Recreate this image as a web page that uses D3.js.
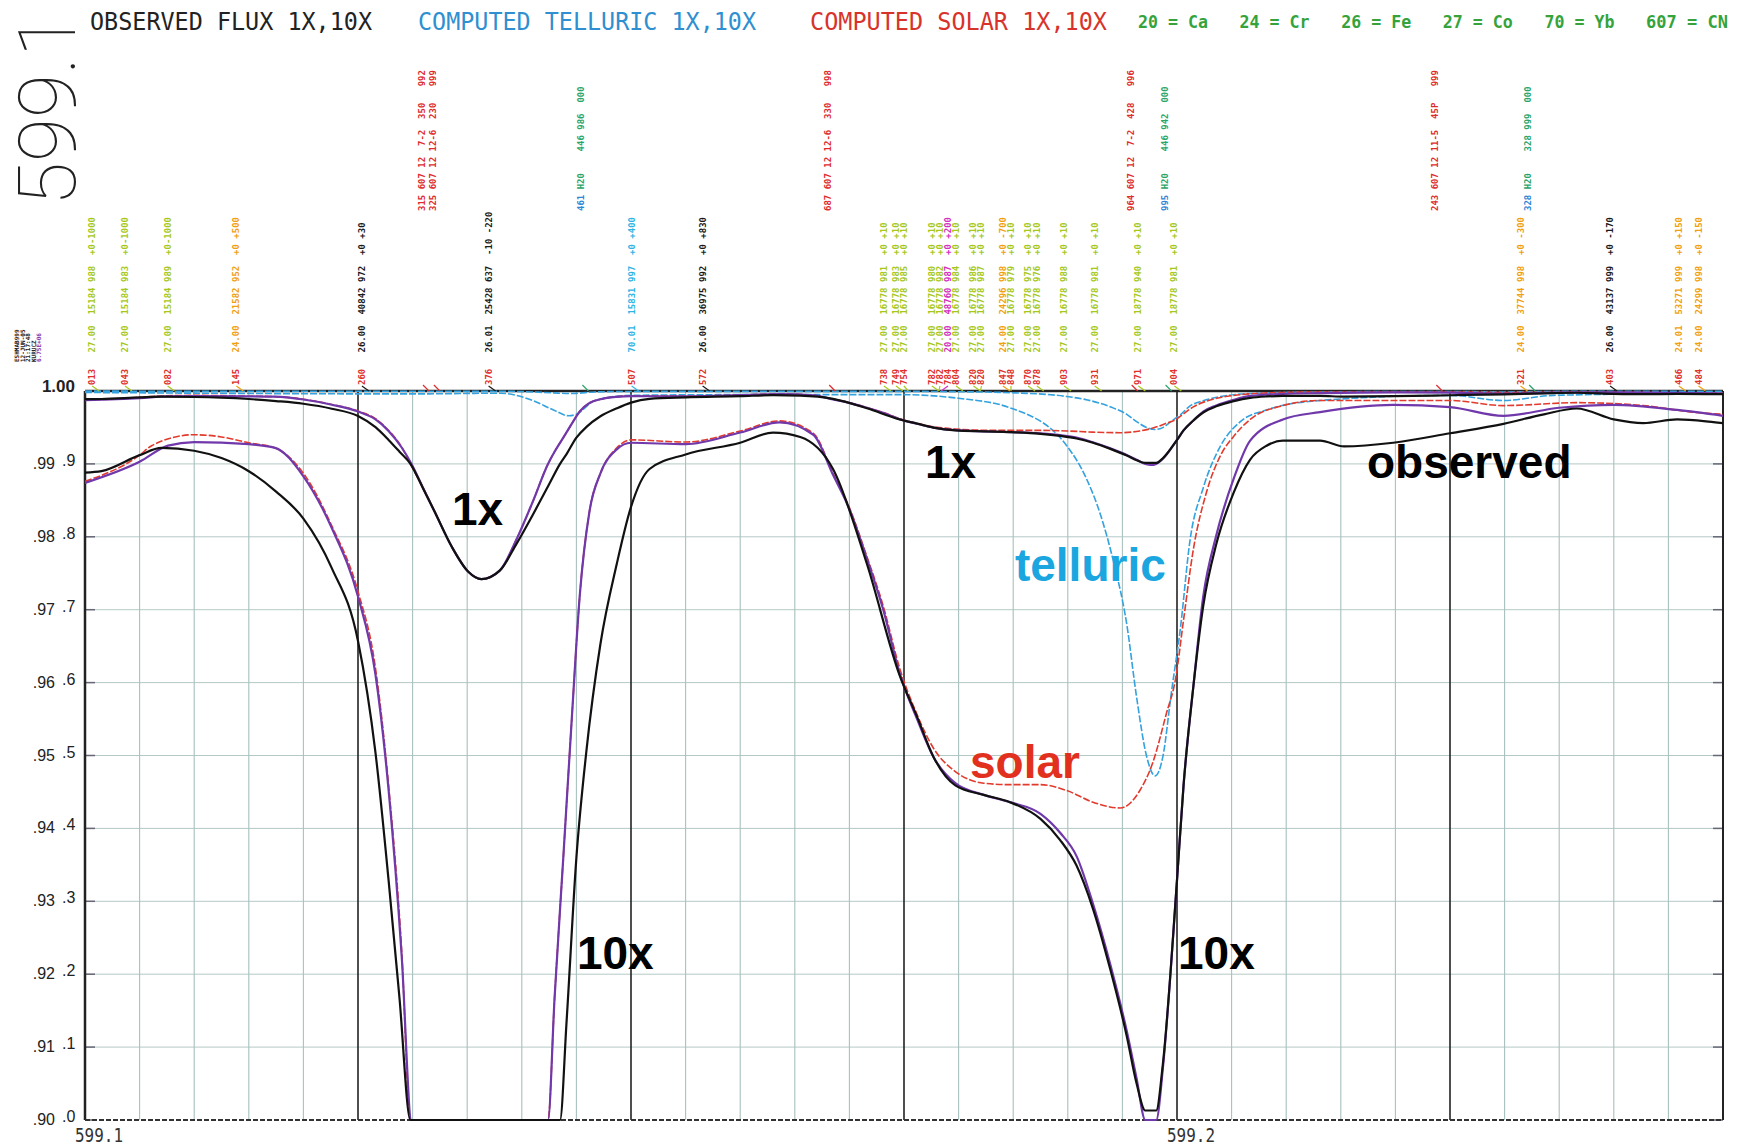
<!DOCTYPE html>
<meta charset="utf-8">
<script src="https://d3js.org/d3.v7.min.js"></script>
<style>
body { margin: 0; background: #fff; }
svg { display: block; }
.mono { font-family: "DejaVu Sans Mono", "Liberation Mono", monospace; }
.big { font-family: "Liberation Sans", Arial, sans-serif; font-weight: bold; }
</style>
<body>
<div id="canvas"></div>
<script>

// observed flux (black), wavelength in nm and normalised flux
var observed = [
  [599.1000,0.9888],[599.1015,0.9890],[599.1050,0.9912],[599.1070,0.9922],[599.1100,0.9918],
  [599.1125,0.9908],[599.1150,0.9890],[599.1175,0.9862],[599.1200,0.9825],[599.1226,0.9757],
  [599.1250,0.9657],[599.1266,0.9504],[599.1278,0.9329],[599.1288,0.9167],[599.1298,0.9000],
  [599.1310,0.8650],[599.1320,0.8350],[599.1336,0.7860],[599.1351,0.7520],[599.1363,0.7420],
  [599.1380,0.7540],[599.1395,0.7900],[599.1410,0.8300],[599.1425,0.8720],[599.1435,0.9000],
  [599.1441,0.9135],[599.1450,0.9360],[599.1459,0.9504],[599.1472,0.9653],[599.1487,0.9763],
  [599.1500,0.9841],[599.1517,0.9893],[599.1550,0.9913],[599.1600,0.9929],[599.1630,0.9943],
  [599.1655,0.9937],[599.1685,0.9893],[599.1716,0.9763],[599.1746,0.9610],[599.1762,0.9553],
  [599.1777,0.9498],[599.1797,0.9459],[599.1823,0.9446],[599.1847,0.9436],[599.1875,0.9413],
  [599.1893,0.9384],[599.1908,0.9349],[599.1923,0.9290],[599.1939,0.9206],[599.1954,0.9115],
  [599.1963,0.9050],[599.1971,0.9013],[599.1981,0.9013],[599.1987,0.9076],[599.2000,0.9329],
  [599.2006,0.9459],[599.2015,0.9595],[599.2024,0.9705],[599.2036,0.9790],[599.2052,0.9861],
  [599.2067,0.9906],[599.2082,0.9925],[599.2097,0.9932],[599.2131,0.9932],[599.2153,0.9924],
  [599.2198,0.9929],[599.2250,0.9942],[599.2299,0.9955],[599.2336,0.9968],[599.2366,0.9976],
  [599.2400,0.9961],[599.2427,0.9956],[599.2458,0.9961],[599.2493,0.9957],[599.2500,0.9956]
];

// computed solar x telluric (purple)
var computed = [
  [599.1000,0.9874],[599.1050,0.9903],[599.1076,0.9925],[599.1100,0.9930],[599.1150,0.9927],
  [599.1174,0.9922],[599.1200,0.9883],[599.1226,0.9812],[599.1250,0.9718],[599.1266,0.9611],
  [599.1278,0.9453],[599.1290,0.9225],[599.1299,0.9000],[599.1310,0.8660],[599.1320,0.8350],
  [599.1336,0.7860],[599.1351,0.7520],[599.1363,0.7420],[599.1380,0.7540],[599.1395,0.7960],
  [599.1410,0.8480],[599.1424,0.9000],[599.1430,0.9167],[599.1438,0.9360],[599.1446,0.9556],
  [599.1453,0.9718],[599.1462,0.9835],[599.1472,0.9887],[599.1487,0.9920],[599.1500,0.9929],
  [599.1550,0.9927],[599.1600,0.9943],[599.1636,0.9957],[599.1667,0.9940],[599.1685,0.9885],
  [599.1700,0.9838],[599.1716,0.9770],[599.1731,0.9700],[599.1746,0.9613],[599.1762,0.9550],
  [599.1777,0.9498],[599.1797,0.9462],[599.1823,0.9446],[599.1847,0.9436],[599.1875,0.9420],
  [599.1893,0.9394],[599.1908,0.9362],[599.1923,0.9297],[599.1939,0.9213],[599.1954,0.9122],
  [599.1963,0.9057],[599.1971,0.9000],[599.1976,0.8985],[599.1981,0.9000],[599.1987,0.9070],
  [599.1994,0.9200],[599.2000,0.9329],[599.2006,0.9459],[599.2015,0.9595],[599.2024,0.9718],
  [599.2036,0.9802],[599.2052,0.9880],[599.2067,0.9932],[599.2097,0.9961],[599.2131,0.9971],
  [599.2198,0.9981],[599.2250,0.9978],[599.2299,0.9966],[599.2350,0.9977],[599.2400,0.9981],
  [599.2458,0.9974],[599.2500,0.9966]
];

// computed solar (red)
var solar = [
  [599.1000,0.9876],[599.1050,0.9912],[599.1061,0.9925],[599.1100,0.9940],[599.1125,0.9937],
  [599.1150,0.9929],[599.1174,0.9922],[599.1200,0.9887],[599.1226,0.9815],[599.1250,0.9725],
  [599.1266,0.9620],[599.1278,0.9459],[599.1290,0.9232],[599.1298,0.9000],[599.1310,0.8660],
  [599.1320,0.8350],[599.1336,0.7860],[599.1351,0.7520],[599.1363,0.7420],[599.1380,0.7540],
  [599.1395,0.7960],[599.1410,0.8480],[599.1424,0.9000],[599.1430,0.9167],[599.1438,0.9360],
  [599.1446,0.9556],[599.1453,0.9718],[599.1462,0.9835],[599.1472,0.9887],[599.1487,0.9922],
  [599.1500,0.9933],[599.1550,0.9930],[599.1600,0.9945],[599.1636,0.9959],[599.1667,0.9942],
  [599.1685,0.9887],[599.1700,0.9840],[599.1716,0.9773],[599.1731,0.9705],[599.1746,0.9620],
  [599.1762,0.9556],[599.1777,0.9510],[599.1797,0.9478],[599.1823,0.9462],[599.1847,0.9460],
  [599.1875,0.9460],[599.1899,0.9452],[599.1923,0.9436],[599.1948,0.9428],[599.1966,0.9452],
  [599.1978,0.9491],[599.1990,0.9556],[599.1999,0.9608],[599.2006,0.9686],[599.2015,0.9783],
  [599.2027,0.9861],[599.2040,0.9912],[599.2052,0.9938],[599.2067,0.9961],[599.2097,0.9980],
  [599.2131,0.9987],[599.2250,0.9987],[599.2299,0.9980],[599.2366,0.9984],[599.2427,0.9980],
  [599.2473,0.9971],[599.2500,0.9968]
];

// computed telluric (blue)
var telluric = [
  [599.1000,0.9998],[599.1300,0.9996],[599.1380,0.9997],[599.1410,0.9987],[599.1429,0.9974],
  [599.1443,0.9966],[599.1450,0.9968],[599.1467,0.9987],[599.1500,0.9994],[599.1600,0.9995],
  [599.1746,0.9995],[599.1800,0.9990],[599.1847,0.9977],[599.1899,0.9925],[599.1917,0.9880],
  [599.1930,0.9830],[599.1942,0.9765],[599.1954,0.9680],[599.1963,0.9580],[599.1972,0.9500],
  [599.1980,0.9472],[599.1987,0.9498],[599.1995,0.9588],[599.2003,0.9673],[599.2012,0.9796],
  [599.2024,0.9867],[599.2040,0.9925],[599.2058,0.9958],[599.2082,0.9974],[599.2131,0.9987],
  [599.2250,0.9994],[599.2299,0.9987],[599.2345,0.9994],[599.2500,0.9997]
];

// axis labels
var xTickLabels = [[599.1, "599.1"], [599.2, "599.2"]];
var yOuterLabels = [".90", ".91", ".92", ".93", ".94", ".95", ".96", ".97", ".98", ".99"];
var yInnerLabels = [".0", ".1", ".2", ".3", ".4", ".5", ".6", ".7", ".8", ".9"];

// header
var header = [
  ["OBSERVED FLUX 1X,10X", "#222"],
  ["COMPUTED TELLURIC 1X,10X", "#2f8fd0"],
  ["COMPUTED SOLAR 1X,10X", "#d8332b"]
];
var elements = [["20", "Ca"], ["24", "Cr"], ["26", "Fe"], ["27", "Co"], ["70", "Yb"], ["607", "CN"]];

// atomic line identifications: wavelength, element, level + gf, shifts
var atomLines = [
  [599.1013, "27.00", "15184 988", "+0-1000"],
  [599.1043, "27.00", "15184 983", "+0-1000"],
  [599.1082, "27.00", "15184 989", "+0-1000"],
  [599.1145, "24.00", "21582 952", "+0 +500"],
  [599.1260, "26.00", "40842 972", "+0 +30"],
  [599.1376, "26.01", "25428 637", "-10 -220"],
  [599.1507, "70.01", "15831 997", "+0 +400"],
  [599.1572, "26.00", "36975 992", "+0 +830"],
  [599.1738, "27.00", "16778 981", "+0 +10"],
  [599.1749, "27.00", "16778 983", "+0 +10"],
  [599.1754, "27.00", "16778 985", "+0 +10"],
  [599.1782, "27.00", "16778 980", "+0 +10"],
  [599.1782, "27.00", "16778 982", "+0 +10"],
  [599.1784, "20.00", "48760 987", "+0 +200"],
  [599.1804, "27.00", "16778 984", "+0 +10"],
  [599.1820, "27.00", "16778 986", "+0 +10"],
  [599.1820, "27.00", "16778 987", "+0 +10"],
  [599.1847, "24.00", "24296 998", "+0 -700"],
  [599.1848, "27.00", "16778 979", "+0 +10"],
  [599.1870, "27.00", "16778 975", "+0 +10"],
  [599.1878, "27.00", "16778 976", "+0 +10"],
  [599.1903, "27.00", "16778 988", "+0 +10"],
  [599.1931, "27.00", "16778 981", "+0 +10"],
  [599.1971, "27.00", "18778 940", "+0 +10"],
  [599.2004, "27.00", "18778 981", "+0 +10"],
  [599.2321, "24.00", "37744 998", "+0 -300"],
  [599.2403, "26.00", "43137 999", "+0 -170"],
  [599.2466, "24.01", "53271 999", "+0 +150"],
  [599.2484, "24.00", "24299 998", "+0 -150"]
];

// molecular / telluric identifications
var molLines = [
  [599.1315, "607", "607 12  7-2  350   992"],
  [599.1325, "607", "607 12 12-6  230   999"],
  [599.1461, "H2O", "H20    446 986  000"],
  [599.1687, "607", "607 12 12-6  330   998"],
  [599.1964, "607", "607 12  7-2  428   996"],
  [599.1995, "H2O", "H20    446 942  000"],
  [599.2243, "607", "607 12 11-5  45P   999"],
  [599.2328, "H2O", "H20    328 999  000"]
];

// big labels: text, wavelength, flux on the 10x scale, colour
var bigLabels = [
  ["1x", 599.13361, 0.98162, "#000"],
  ["10x", 599.14505, 0.92071, "#000"],
  ["1x", 599.17692, 0.98807, "#000"],
  ["telluric", 599.18516, 0.97394, "#1ba6e0"],
  ["solar", 599.18104, 0.94691, "#e2301e"],
  ["10x", 599.20009, 0.92071, "#000"],
  ["observed", 599.21740, 0.98807, "#000"]
];

var elemColor = {"20": "#d42fc0", "24": "#f0a010", "26": "#1a1a1a", "27": "#a6c81c", "70": "#2fb4e4"};

var width = 1743, height = 1148;
var margin = {top: 391, right: 20, bottom: 28, left: 85};
var w = width - margin.left - margin.right;
var h = height - margin.top - margin.bottom;

var svg = d3.select('#canvas').append('svg')
  .attr('width', width).attr('height', height)
  .style('background', '#fff');

var x = d3.scaleLinear().domain([599.1, 599.25]).range([0, w]);
// 10x magnified scale (outer labels) and 1x scale (inner labels)
var y10 = d3.scaleLinear().domain([0.90, 1.00]).range([h, 0]).clamp(true);
var y1 = d3.scaleLinear().domain([0, 1]).range([h, 0]).clamp(true);

var g = svg.append('g').attr('transform', 'translate(' + margin.left + ',' + margin.top + ')');

// grid -------------------------------------------------------
var yGrid = d3.range(0, 11).map(function(i) { return 0.90 + i * 0.01; });
var xGrid = d3.range(0, 31).map(function(i) { return 599.1 + i * 0.005; });

g.selectAll('.hgrid').data(yGrid.slice(1, 10)).enter().append('line')
  .attr('x1', 0).attr('x2', w)
  .attr('y1', function(d) { return y10(d); }).attr('y2', function(d) { return y10(d); })
  .attr('stroke', '#b4c9c6').attr('stroke-width', 1);

g.selectAll('.vgrid').data(xGrid).enter().append('line')
  .attr('x1', function(d) { return x(d); }).attr('x2', function(d) { return x(d); })
  .attr('y1', 0).attr('y2', h)
  .attr('stroke', function(d, i) { return i % 5 == 0 ? '#222' : '#a9c1be'; })
  .attr('stroke-width', function(d, i) { return i % 5 == 0 ? 1.6 : 1.1; });

// short ticks on both sides
g.selectAll('.ltick').data(yGrid).enter().append('line')
  .attr('x1', 0).attr('x2', 10)
  .attr('y1', function(d) { return y10(d); }).attr('y2', function(d) { return y10(d); })
  .attr('stroke', '#667').attr('stroke-width', 1.5);
g.selectAll('.rtick').data(yGrid).enter().append('line')
  .attr('x1', w - 10).attr('x2', w)
  .attr('y1', function(d) { return y10(d); }).attr('y2', function(d) { return y10(d); })
  .attr('stroke', '#667').attr('stroke-width', 1.5);

// frame
g.append('line').attr('x1', 0).attr('x2', 0).attr('y1', 0).attr('y2', h).attr('stroke', '#222').attr('stroke-width', 2.5);
g.append('line').attr('x1', w).attr('x2', w).attr('y1', 0).attr('y2', h).attr('stroke', '#222').attr('stroke-width', 2);
g.append('line').attr('x1', 0).attr('x2', w).attr('y1', 0).attr('y2', 0).attr('stroke', '#222').attr('stroke-width', 2.5);
g.append('line').attr('x1', 0).attr('x2', w).attr('y1', h).attr('y2', h)
  .attr('stroke', '#333').attr('stroke-width', 2).attr('stroke-dasharray', '5,2');

// curves ------------------------------------------------------
g.append('clipPath').attr('id', 'plotclip').append('rect')
  .attr('x', 0).attr('y', -2).attr('width', w).attr('height', h + 4);
var plot = g.append('g').attr('clip-path', 'url(#plotclip)');

var line10 = d3.line().curve(d3.curveMonotoneX)
  .x(function(d) { return x(d[0]); }).y(function(d) { return y10(d[1]); });
var line1 = d3.line().curve(d3.curveMonotoneX)
  .x(function(d) { return x(d[0]); }).y(function(d) { return y1(d[1]); });

var series = [
  {data: telluric, color: '#33a2de', width: 1.6, dash: '7,2'},
  {data: solar, color: '#e23a2d', width: 1.6, dash: '7,2'},
  {data: computed, color: '#7038aa', width: 2.2, dash: null},
  {data: observed, color: '#111', width: 2.2, dash: null}
];
series.forEach(function(s) {
  [line10, line1].forEach(function(ln) {
    plot.append('path').datum(s.data)
      .attr('d', ln)
      .attr('fill', 'none')
      .attr('stroke', s.color)
      .attr('stroke-width', s.width)
      .attr('stroke-dasharray', s.dash);
  });
});

// y labels ---------------------------------------------------
g.selectAll('.yout').data(yOuterLabels).enter().append('text')
  .attr('x', -30).attr('y', function(d, i) { return y10(yGrid[i]) + 5; })
  .attr('text-anchor', 'end')
  .style('font-family', '"Liberation Sans", Arial, sans-serif').style('font-size', '16px').style('fill', '#222')
  .text(function(d) { return d; });
g.selectAll('.yin').data(yInnerLabels).enter().append('text')
  .attr('x', -23).attr('y', function(d, i) { return y10(yGrid[i]) + 2; })
  .attr('text-anchor', 'start')
  .style('font-family', '"Liberation Sans", Arial, sans-serif').style('font-size', '16px').style('fill', '#222')
  .text(function(d) { return d; });
g.append('text').attr('x', -10).attr('y', y10(1.0) + 1)
  .attr('text-anchor', 'end')
  .style('font-family', '"Liberation Sans", Arial, sans-serif').style('font-size', '17px')
  .style('font-weight', 'bold').style('fill', '#222')
  .text('1.00');

// x labels
g.selectAll('.xlab').data(xTickLabels).enter().append('text')
  .attr('class', 'mono')
  .attr('x', function(d) { return x(d[0]) - 10; }).attr('y', h + 22)
  .attr('textLength', 48).attr('lengthAdjust', 'spacingAndGlyphs')
  .style('font-size', '20px').style('fill', '#333')
  .text(function(d) { return d[1]; });

// big labels
g.selectAll('.biglab').data(bigLabels).enter().append('text')
  .attr('class', 'big')
  .attr('x', function(d) { return x(d[1]); }).attr('y', function(d) { return y10(d[2]); })
  .style('font-size', '46px').style('fill', function(d) { return d[3]; })
  .text(function(d) { return d[0]; });

// header ------------------------------------------------------
var hx = [90, 418, 810], hw = [282, 338, 297];
svg.selectAll('.head').data(header).enter().append('text')
  .attr('class', 'mono')
  .attr('x', function(d, i) { return hx[i]; }).attr('y', 30)
  .attr('textLength', function(d, i) { return hw[i]; }).attr('lengthAdjust', 'spacingAndGlyphs')
  .style('font-size', '24px').style('fill', function(d) { return d[1]; })
  .text(function(d) { return d[0]; });
svg.selectAll('.elem').data(elements).enter().append('text')
  .attr('class', 'mono')
  .attr('x', function(d, i) { return 1138 + i * 101.6; }).attr('y', 28)
  .attr('textLength', function(d) { return d[0].length == 3 ? 82 : 70; }).attr('lengthAdjust', 'spacingAndGlyphs')
  .style('font-size', '17px').style('font-weight', 'bold').style('fill', '#35a33c')
  .text(function(d) { return d[0] + ' = ' + d[1]; });

// big rotated wavelength
svg.append('text')
  .attr('transform', 'translate(75,206) rotate(-90)')
  .attr('textLength', 193).attr('lengthAdjust', 'spacingAndGlyphs')
  .style('font-family', 'Roboto, Lato, "DejaVu Sans", sans-serif').style('font-weight', 100)
  .style('font-size', '80px').style('fill', '#222')
  .text('599.1');

// run stamp
var stamp = [["ESHMAB999", "#222"], ["12-JUN-05", "#222"], ["21:17:48", "#222"], ["KURUCZ", "#222"], ["6.75E+06", "#7a3db0"]];
svg.selectAll('.stamp').data(stamp).enter().append('text')
  .attr('class', 'mono')
  .attr('transform', function(d, i) { return 'translate(' + (19 + i * 5.5) + ',362) rotate(-90)'; })
  .style('font-size', '6px').style('font-weight', 'bold').style('fill', function(d) { return d[1]; })
  .text(function(d) { return d[0]; });

// line identifications --------------------------------------
function code(wl) { return d3.format('03d')(Math.round(wl * 10000) % 1000); }

// spread labels so they do not overlap
function spread(list, gap) {
  var last = -1e9;
  return list.map(function(d) {
    var px = Math.max(x(d[0]) - 7, last + gap);
    last = px;
    return px;
  });
}
var atomPx = spread(atomLines, 8);
var molPx = spread(molLines, 8);

var ids = svg.append('g').attr('transform', 'translate(' + margin.left + ',0)');

var atomG = ids.selectAll('.atom').data(atomLines).enter().append('g')
  .attr('transform', function(d, i) { return 'translate(' + (atomPx[i] + 3) + ',385) rotate(-90)'; });
var atomT = atomG.append('text').attr('class', 'mono')
  .style('font-size', '9px').style('font-weight', 'bold').attr('xml:space', 'preserve');
atomT.append('tspan').style('fill', '#e0302a').text(function(d) { return code(d[0]); });
atomT.append('tspan').style('fill', function(d) { return elemColor[d[1].slice(0, 2)]; })
  .text(function(d) { return '   ' + d[1] + '  ' + d[2] + '  ' + d[3]; });
ids.selectAll('.atick').data(atomLines).enter().append('line')
  .attr('x1', function(d, i) { return atomPx[i]; }).attr('y1', 386)
  .attr('x2', function(d) { return x(d[0]); }).attr('y2', 391)
  .attr('stroke', function(d) { return elemColor[d[1].slice(0, 2)]; }).attr('stroke-width', 1.2);

var molG = ids.selectAll('.mol').data(molLines).enter().append('g')
  .attr('transform', function(d, i) { return 'translate(' + (molPx[i] + 3) + ',211) rotate(-90)'; });
var molT = molG.append('text').attr('class', 'mono')
  .style('font-size', '9px').style('font-weight', 'bold').attr('xml:space', 'preserve');
molT.append('tspan').style('fill', function(d) { return d[1] == 'H2O' ? '#2f86d6' : '#de2c2c'; })
  .text(function(d) { return code(d[0]); });
molT.append('tspan').style('fill', function(d) { return d[1] == 'H2O' ? '#2aa56a' : '#de2c2c'; })
  .text(function(d) { return ' ' + d[2]; });
ids.selectAll('.mtick').data(molLines).enter().append('line')
  .attr('x1', function(d) { return x(d[0]) - 6; }).attr('y1', 385)
  .attr('x2', function(d) { return x(d[0]); }).attr('y2', 391)
  .attr('stroke', function(d) { return d[1] == 'H2O' ? '#2aa56a' : '#de2c2c'; }).attr('stroke-width', 1.2);

</script>
</body>
